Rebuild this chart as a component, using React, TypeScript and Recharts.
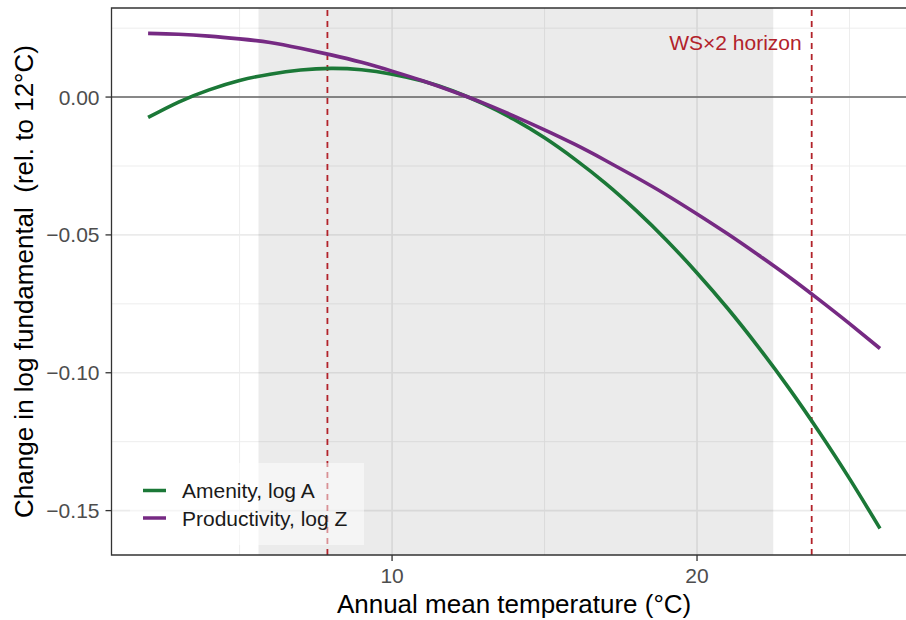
import React from 'react';
import { LineChart, Line, XAxis, YAxis, ReferenceLine, ReferenceArea, Legend } from 'recharts';

const FONT = '"Liberation Sans", Arial, Helvetica, sans-serif';

const temps = [2, 3, 4, 5, 6, 7, 8, 9, 10, 11, 12, 13, 14, 15, 16, 17, 18, 19, 20, 21, 22, 23, 24, 25, 26];
const amenity = [-0.0074, -0.0018, 0.0026, 0.006, 0.0083, 0.0098, 0.0104, 0.0099, 0.0083, 0.0058, 0.0022, -0.0025, -0.0081, -0.0148, -0.0226, -0.0313, -0.0411, -0.0519, -0.0638, -0.0766, -0.0905, -0.1054, -0.1214, -0.1384, -0.1565];
const productivity = [0.0231, 0.0228, 0.0221, 0.0211, 0.0198, 0.0177, 0.0153, 0.0126, 0.0094, 0.0059, 0.002, -0.0022, -0.0069, -0.0119, -0.0172, -0.023, -0.0291, -0.0355, -0.0424, -0.0496, -0.0572, -0.0651, -0.0735, -0.0822, -0.0912];

const seriesKeys = ['amenity', 'productivity'];
const seriesNames = ['Amenity, log A', 'Productivity, log Z'];
const seriesColors = ['#1B7837', '#762A83'];

const xTicks = [10, 20];
const xMinor = [5, 15, 25];
const yTicks = [0, -0.05, -0.1, -0.15];
const yMinor = [0.025, -0.025, -0.075, -0.125];
const xDomain = [0.8, 27.2];
const yDomain = [-0.1661, 0.0323];
const band = [5.62, 22.5];
const horizons = [7.88, 23.76];
const horizonLabel = 'WS\u00d72 horizon';
const xTitle = 'Annual mean temperature (\u00b0C)';
const yTitle = 'Change in log fundamental  (rel. to 12\u00b0C)';

const data = temps.map((t, i) => ({ t, amenity: amenity[i], productivity: productivity[i] }));

const fmtY = (v: number) => (v === 0 ? '0.00' : (v < 0 ? '\u2212' : '') + Math.abs(v).toFixed(2));

const RED = '#B2222A';

const LegendBox = () => (
  <svg width={234} height={82} style={{ display: 'block' }}>
    <rect x={0} y={0} width={234} height={82} fill="#fff" fillOpacity={0.5} />
    {seriesNames.map((n, i) => (
      <g key={n}>
        <line x1={13} x2={36} y1={27.5 + i * 27.5} y2={27.5 + i * 27.5} stroke={seriesColors[i]} strokeWidth={3.5} />
        <text x={52} y={27.5 + i * 27.5 + 7.5} fontSize={21} fill="#1a1a1a" fontFamily={FONT}>{n}</text>
      </g>
    ))}
  </svg>
);

export default function App() {
  return (
    <div style={{ position: 'absolute', left: 0, top: 0, width: 906, height: 620, overflow: 'hidden', background: '#fff' }}>
      <LineChart width={930} height={620} data={data} margin={{ top: 8, right: 13.4, bottom: 0, left: 0 }} style={{ fontFamily: FONT }}>
        <XAxis
          type="number"
          dataKey="t"
          domain={xDomain}
          ticks={xTicks}
          allowDataOverflow
          height={65}
          tickSize={6}
          tickMargin={7}
          axisLine={false}
          tickLine={{ stroke: '#333', strokeWidth: 1.3 }}
          tick={{ fill: '#4D4D4D', fontSize: 21, fontFamily: FONT }}
          label={(p: any) => {
            const vb = p.viewBox || {};
            return (
              <text x={vb.x + vb.width / 2} y={vb.y + 58} textAnchor="middle" fontSize={26} fill="#000" fontFamily={FONT}>
                {xTitle}
              </text>
            );
          }}
        />
        <YAxis
          type="number"
          domain={yDomain}
          ticks={yTicks}
          allowDataOverflow
          width={111.5}
          tickSize={6}
          tickMargin={6}
          axisLine={false}
          tickFormatter={fmtY}
          tickLine={{ stroke: '#333', strokeWidth: 1.3 }}
          tick={{ fill: '#4D4D4D', fontSize: 21, fontFamily: FONT }}
          label={(p: any) => {
            const vb = p.viewBox || {};
            const cy = vb.y + vb.height / 2;
            return (
              <text x={33} y={cy} transform={`rotate(-90, 33, ${cy})`} textAnchor="middle" fontSize={26} fill="#000" fontFamily={FONT} style={{ whiteSpace: 'pre' }} xmlSpace="preserve">
                {yTitle}
              </text>
            );
          }}
        />
        {yMinor.map((v) => (
          <ReferenceLine key={'ym' + v} y={v} stroke="#EBEBEB" strokeWidth={0.9} zIndex={-100} />
        ))}
        {xMinor.map((v) => (
          <ReferenceLine key={'xm' + v} x={v} stroke="#EBEBEB" strokeWidth={0.9} zIndex={-100} />
        ))}
        {yTicks.map((v) => (
          <ReferenceLine key={'yM' + v} y={v} stroke="#EBEBEB" strokeWidth={1.7} zIndex={-100} />
        ))}
        {xTicks.map((v) => (
          <ReferenceLine key={'xM' + v} x={v} stroke="#EBEBEB" strokeWidth={1.7} zIndex={-100} />
        ))}
        <ReferenceArea x1={band[0]} x2={band[1]} fill="#000" fillOpacity={0.08} stroke="none" zIndex={-50} />
        <ReferenceLine y={0} stroke="#666" strokeWidth={1.5} zIndex={0} />
        <ReferenceLine x={horizons[0]} stroke={RED} strokeWidth={1.8} strokeDasharray="6 5" zIndex={0} />
        <ReferenceLine
          x={horizons[1]}
          stroke={RED}
          strokeWidth={1.8}
          strokeDasharray="6 5"
          zIndex={0}
          label={(p: any) => {
            const vb = p.viewBox || {};
            return (
              <text x={vb.x - 10} y={vb.y + 42} textAnchor="end" fontSize={21} fill={RED} fontFamily={FONT}>
                {horizonLabel}
              </text>
            );
          }}
        />
        {seriesKeys.map((k, i) => (
          <Line
            key={k}
            type="natural"
            dataKey={k}
            name={seriesNames[i]}
            stroke={seriesColors[i]}
            strokeWidth={3.6}
            dot={false}
            activeDot={false}
            isAnimationActive={false}
          />
        ))}
        <ReferenceArea
          x1={xDomain[0]}
          x2={xDomain[1]}
          y1={yDomain[0]}
          y2={yDomain[1]}
          fill="none"
          stroke="#333"
          strokeWidth={1.3}
          zIndex={600}
        />
        <Legend
          layout="vertical"
          align="center"
          verticalAlign="middle"
          wrapperStyle={{ left: 130, top: 463, width: 234, height: 82 }}
          content={() => <LegendBox />}
        />
      </LineChart>
    </div>
  );
}
